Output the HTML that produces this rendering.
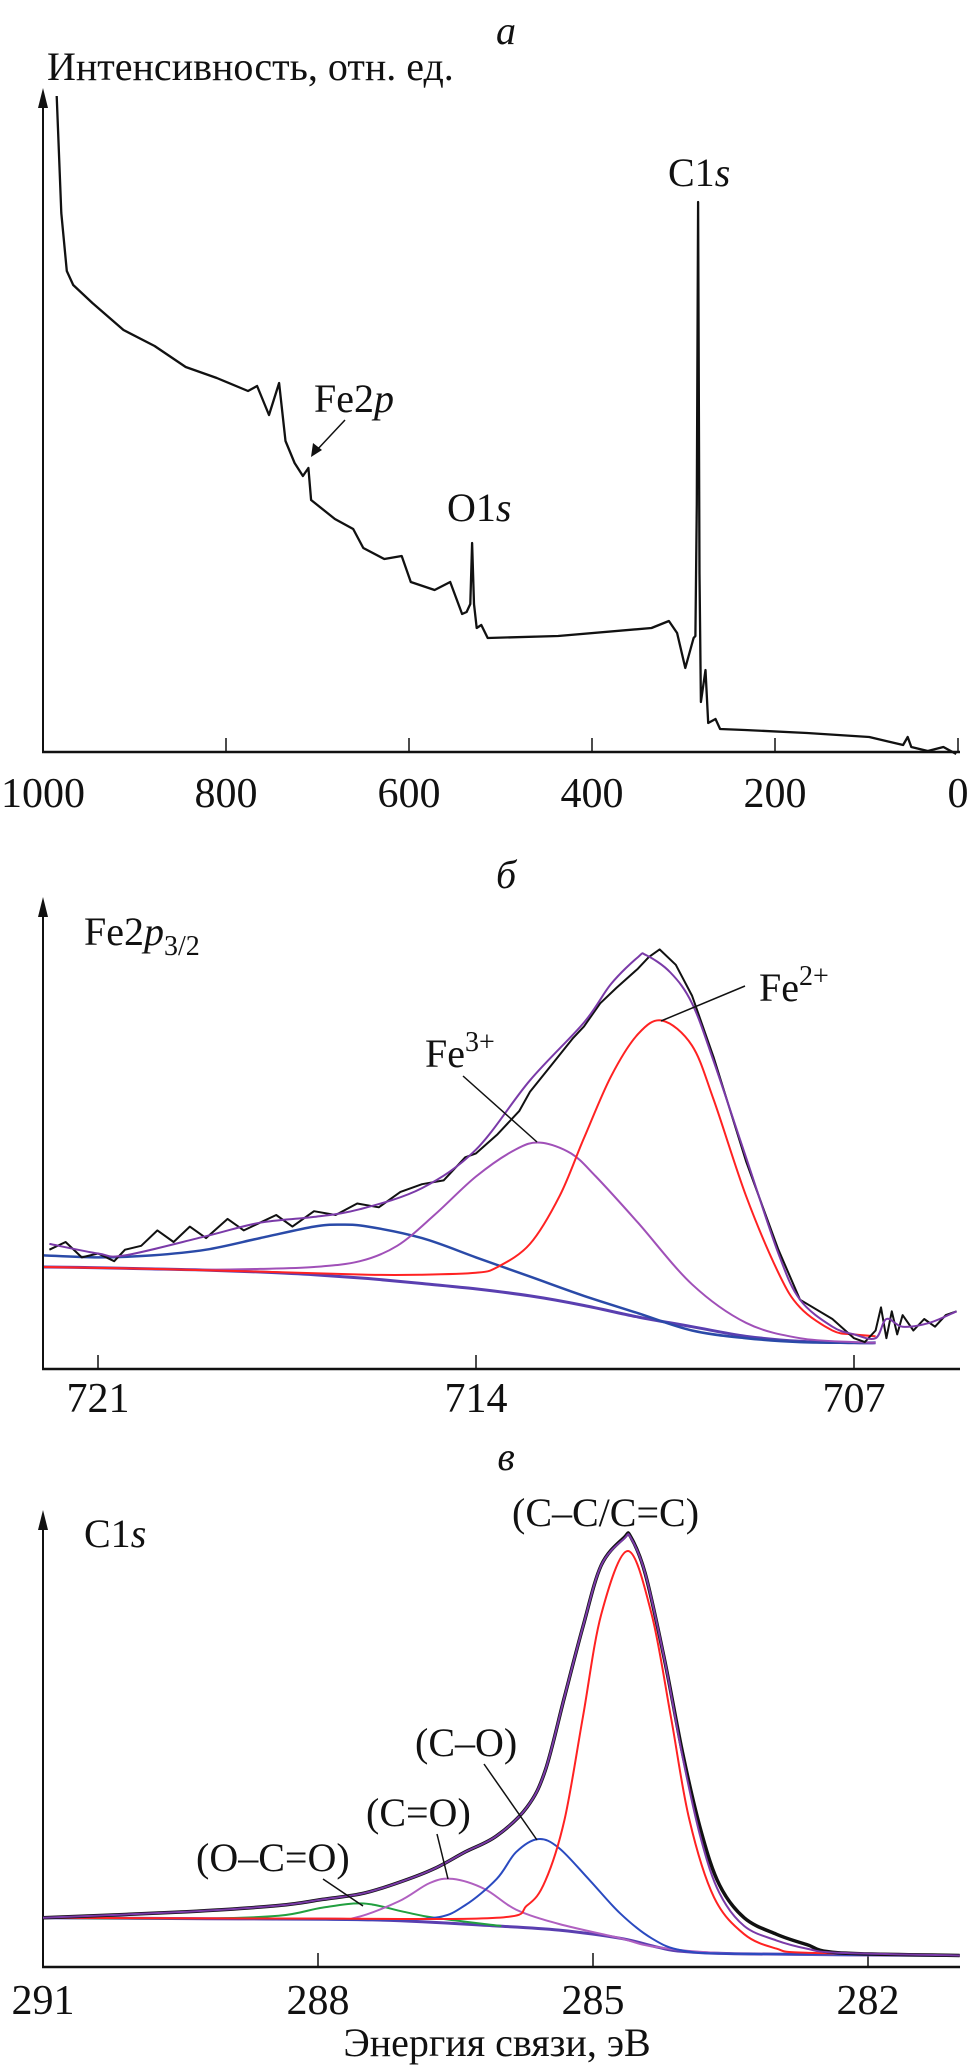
<!DOCTYPE html>
<html><head><meta charset="utf-8"><style>
html,body{margin:0;padding:0;background:#fff}
svg{display:block}
svg text{font-family:"Liberation Serif","DejaVu Serif",serif;fill:#111}
</style></head><body>
<svg id="fig" width="969" height="2070" viewBox="0 0 969 2070" xmlns="http://www.w3.org/2000/svg" font-family="Liberation Serif, DejaVu Serif, serif">
<g id="pa"></g>
<g id="pb"></g>
<g id="pc"></g>
</svg>
<script>
// ---------- Panel a data (survey) ----------
const aEnergy = [985,980,974,967,946,912,878,844,810,776,766,753,742,735,725,716,710,707,681,661,650,627,608,598,572,555,542,537,533,531,529,526,521,514,437,335,316,307,298,289,287,285.5,284,282.5,281,276,273,265,260,233,165,97,60,55,51,33,16,2];
const aCounts = [658,541,483,469,451,424,408,387,376,363,368,339,371,313,291,278,286,254,235,225,206,195,198,172,164,172,140,142,150,211,150,126,129,116,118,126,133,121,86,116,118,250,552,180,52,84,31,35,25,24,21,17,9,17,7,3,7,0];
const aTicks = [1000,800,600,400,200,0];

// ---------- Panel b data (Fe2p3/2) ----------
const bTicks = [721,714,707];
const bBgE = [722,721,720,719,718,717,716,715,714,713,712,711,710,709,708,707,706.6];
const bBg  = [26.5,26.3,26,25.7,25.2,24.5,23.5,22.2,20.8,19,16.5,13.5,11,8.5,7.2,6.8,6.8];
const bSatE = [722,721,720,719,718,717,716.5,716,715,714,713,712,711,710,709,708,707,706.6];
const bSat  = [29.5,29,29.5,31,34,37,37.5,37,34,29,24,19,14.5,10,8,7,6.8,6.8];
const bFe3E = [722,721,720,719,718,717,716.15,715.46,714.77,714,713.27,712.81,712.24,711.78,711,710,709,708,707,706.6];
const bFe3  = [26.5,26.3,26,25.8,26,26.5,28,32,40,50,57,58.8,56,50,38,22,12,8,7,6.8];
const bFe2E = [722,720,718,716,715,714,713.6,713,712.45,712,711.5,711,710.55,710,709.6,709,708.4,708,707.4,707,706.6];
const bFe2  = [26.5,26,25.3,24.5,24.5,25,26.5,32.5,45,60,76,87,90.5,84,70,45,25,16,10,9,8.5];
const bEnvE = [721.9,721,720.5,719,718,717,716.15,715,714,713,712,711.5,711,710.85,710.4,710,709.6,709,708.4,708,707.4,707,706.6,706.4,706.1,705.6,705.1];
const bEnv  = [32.5,30,29.5,34.5,38,39.5,41.5,47,57,75,90,100,107,107.5,103,95,80,55,30,18,11,9,8,13,11,12,15];
const bRawE = [721.9,721.6,721.3,721,720.7,720.5,720.2,719.9,719.6,719.3,719,718.6,718.3,718,717.7,717.4,717,716.6,716.2,715.8,715.4,715,714.6,714.2,714,713.6,713.2,713,712.6,712.2,712,711.7,711.4,711,710.8,710.6,710.3,710,709.6,709,708.4,708,707.4,707,706.8,706.6,706.5,706.4,706.3,706.2,706.1,705.9,705.7,705.5,705.3,705.1];
const bRaw  = [31,33,29,30,28,31,32,36,33,37,34,39,36,38,40,37,41,40,43,42,46,48,49,55,56,61,67,72,79,86,89,95,99,104,107,109,105,97,81,54,31,18,13,8,7,10,16,8,15,9,14,10,13,11,14,15];

// ---------- Panel c data (C1s) ----------
const cTicks = [291,288,285,282];
const cBgE = [291,289.4,287.41,286.05,285.37,284.7,284.29,284.02,283.35,281];
const cBg  = [12,11.8,11.5,10,9,7,4.8,3.8,3.2,2.8];
const cOCOE = [291,289.4,288.43,287.95,287.5,287.07,286.73,286];
const cOCO  = [12,11.8,12.5,14.5,15.5,13.5,12,10];
const cCOdE = [291,288,287.6,287.12,286.78,286.53,286.18,285.84,285.37,284.7,284.29,283.35,281];
const cCOd  = [12,11.8,12,16,20.5,21.5,19,14,10.5,7,4.8,3.2,2.8];
const cCOE = [291,289.4,287.5,286.73,286.4,286.05,285.84,285.6,285.37,285.03,284.7,284.36,284.02,283.35,281];
const cCO  = [12,11.8,11.6,12,15,21.5,28,31.2,29,21,13,7,4,3.2,2.8];
const cCCE = [291,288,286.05,285.72,285.52,285.31,285.11,284.91,284.62,284.36,284.15,283.95,283.68,283.35,283.0,282.67,281];
const cCC  = [12,11.8,12,15,21,36,61,86,101.5,86,61,36,17,8,4.5,3.5,2.8];
const cEnvE = [291,289.43,288.43,287.95,287.5,287.07,286.73,286.4,286.05,285.72,285.52,285.31,285.11,284.91,284.66,284.59,284.43,284.22,284.02,283.82,283.62,283.35,283.0,282.67,282.33,281];
const cEnv  = [12,13.5,15,16.5,18,21,24,28,32,39,48,66,83,98,104.5,104.8,96,75,51,31,18,10,6.5,4.5,3.5,2.8];
const cRaw  = [12,13.5,15,16.5,18,21,24,28,32,39,48,66,83,98,104.8,105,96,75,52,33,20,12,8,5.5,3.5,2.8];

const NS="http://www.w3.org/2000/svg";
const FF="Liberation Serif, DejaVu Serif, serif";
function mk(tag, parent, attrs){const e=document.createElementNS(NS,tag);for(const k in attrs)e.setAttribute(k,attrs[k]);parent.appendChild(e);return e;}
function lin(d0,d1,r0,r1){return v=>r0+(v-d0)*(r1-r0)/(d1-d0);}
function pathD(xs,ys,X,Y){return xs.map((x,i)=>(i?'L':'M')+X(x).toFixed(1)+','+Y(ys[i]).toFixed(1)).join(' ');}
function smoothD(xs,ys,X,Y){
  const p=xs.map((x,i)=>[X(x),Y(ys[i])]);
  let d='M'+p[0][0].toFixed(1)+','+p[0][1].toFixed(1);
  for(let i=0;i<p.length-1;i++){
    const p0=p[i-1]||p[i],p1=p[i],p2=p[i+1],p3=p[i+2]||p2;
    const c1=[p1[0]+(p2[0]-p0[0])/6,p1[1]+(p2[1]-p0[1])/6];
    const c2=[p2[0]-(p3[0]-p1[0])/6,p2[1]-(p3[1]-p1[1])/6];
    d+=' C'+c1[0].toFixed(1)+','+c1[1].toFixed(1)+' '+c2[0].toFixed(1)+','+c2[1].toFixed(1)+' '+p2[0].toFixed(1)+','+p2[1].toFixed(1);
  }
  return d;
}
function axes(g,x0,x1,y0,yTop){
  const ya=mk('line',g,{x1:x0,y1:y0,x2:x0,y2:yTop+14,stroke:'#111','stroke-width':2});
  
  
  const ah=mk('path',g,{d:`M${x0-5},${yTop+20} L${x0},${yTop} L${x0+5},${yTop+20} Z`,fill:'#111'});
  
  
  const xa=mk('line',g,{x1:x0-1,y1:y0,x2:x1,y2:y0,stroke:'#111','stroke-width':2.5});
  
  
}
function ticks(g,vals,X,y0,ly,len){
  vals.forEach(v=>{
    const t=mk('line',g,{x1:X(v),y1:y0,x2:X(v),y2:y0-len,stroke:'#111','stroke-width':1.5});
    
    
    const l=mk('text',g,{x:X(v),y:ly,'text-anchor':'middle','font-size':42,'font-family':FF});
    l.textContent=v;
    
    
  });
}
function line(g,xs,ys,X,Y,color,w,name,smooth){
  const p=mk('path',g,{d:smooth?smoothD(xs,ys,X,Y):pathD(xs,ys,X,Y),fill:'none',stroke:color,'stroke-width':w,'stroke-linejoin':'round'});
  
  
  return p;
}
function txt(g,x,y,html,size,name,anchor){
  const t=mk('text',g,{x:x,y:y,'font-size':size,'text-anchor':anchor||'start','font-family':FF});
  t.innerHTML=html;
  
  
  return t;
}
function lead(g,x1,y1,x2,y2,name){
  const l=mk('line',g,{x1,y1,x2,y2,stroke:'#111','stroke-width':1.5});
  
  
}

// ---- Panel a ----
(function(){
  const g=document.getElementById('pa');
  const X=lin(1000,0,43,958), Y=lin(0,664,754,90);
  axes(g,43,960,752,88);
  ticks(g,aTicks,X,752,807,14);
  line(g,aEnergy,aCounts,X,Y,'#111',2.3,'survey-spectrum',false);
  txt(g,506,44,'а',40,'panel-a-title','middle').setAttribute('font-style','italic');
  txt(g,47,80,'Интенсивность, отн. ед.',40,'y-axis-title');
  txt(g,668,186,'C1<tspan font-style="italic">s</tspan>',40,'label-c1s');
  txt(g,314,412,'Fe2<tspan font-style="italic">p</tspan>',40,'label-fe2p');
  txt(g,447,521,'O1<tspan font-style="italic">s</tspan>',40,'label-o1s');
  lead(g,345,420,316,451,'fe2p-arrow-line');
  const ah=mk('path',g,{d:'M311,457 L313,443 L322,450 Z',fill:'#111'});
  
  
})();

// ---- Panel b ----
(function(){
  const g=document.getElementById('pb');
  const X=lin(721,707,98,854), Y=lin(0,122.6,1369,897);
  axes(g,43,960,1369,897);
  ticks(g,bTicks,X,1369,1412,14);
  line(g,bBgE,bBg,X,Y,'#5a3fb0',3,'background-line',true);
  line(g,bSatE,bSat,X,Y,'#2a4aa8',2.5,'satellite-component',true);
  line(g,bFe3E,bFe3,X,Y,'#a050b8',2,'fe3-component',true);
  line(g,bFe2E,bFe2,X,Y,'#ff2222',2,'fe2-component',true);
  line(g,bRawE,bRaw,X,Y,'#111',2,'raw-data',false);
  line(g,bEnvE,bEnv,X,Y,'#7a3aa8',2,'envelope-fit',true);
  txt(g,506,888,'б',40,'panel-b-title','middle').setAttribute('font-style','italic');
  txt(g,84,945,'Fe2<tspan font-style="italic">p</tspan><tspan font-size="28" dy="10">3/2</tspan>',40,'fe2p32-label');
  txt(g,425,1067,'Fe<tspan font-size="28" dy="-16">3+</tspan>',40,'label-fe3');
  txt(g,759,1001,'Fe<tspan font-size="28" dy="-16">2+</tspan>',40,'label-fe2');
  lead(g,463,1076,537,1142,'fe3-leader');
  lead(g,745,986,661,1021,'fe2-leader');
})();

// ---- Panel c ----
(function(){
  const g=document.getElementById('pc');
  const X=lin(291,282,43,868), Y=lin(0,111.5,1967,1510);
  axes(g,43,960,1967,1510);
  ticks(g,cTicks,X,1967,2014,14);
  line(g,cBgE,cBg,X,Y,'#5a3fb0',3,'background-line',true);
  line(g,cOCOE,cOCO,X,Y,'#22a040',2,'o-c-o-component',true);
  line(g,cCOdE,cCOd,X,Y,'#b060c0',2,'c-double-o-component',true);
  line(g,cCOE,cCO,X,Y,'#2a4ac0',2,'c-o-component',true);
  line(g,cCCE,cCC,X,Y,'#ff2222',2,'c-c-component',true);
  line(g,cEnvE,cRaw,X,Y,'#111',3.5,'raw-data',true);
  line(g,cEnvE,cEnv,X,Y,'#7a3aa8',2,'envelope-fit',true);
  txt(g,506,1470,'в',40,'panel-c-title','middle').setAttribute('font-style','italic');
  txt(g,84,1547,'C1<tspan font-style="italic">s</tspan>',40,'c1s-label');
  txt(g,512,1526,'(C–C/C=C)',40,'label-cc');
  txt(g,415,1756,'(C–O)',40,'label-co');
  txt(g,366,1826,'(C=O)',40,'label-cdo');
  txt(g,196,1871,'(O–C=O)',40,'label-oco');
  lead(g,484,1764,537,1840,'co-leader');
  lead(g,437,1834,448,1879,'cdo-leader');
  lead(g,323,1879,363,1906,'oco-leader');
  txt(g,497,2056,'Энергия связи, эВ',40,'x-axis-title','middle');
})();
</script>
</body></html>
